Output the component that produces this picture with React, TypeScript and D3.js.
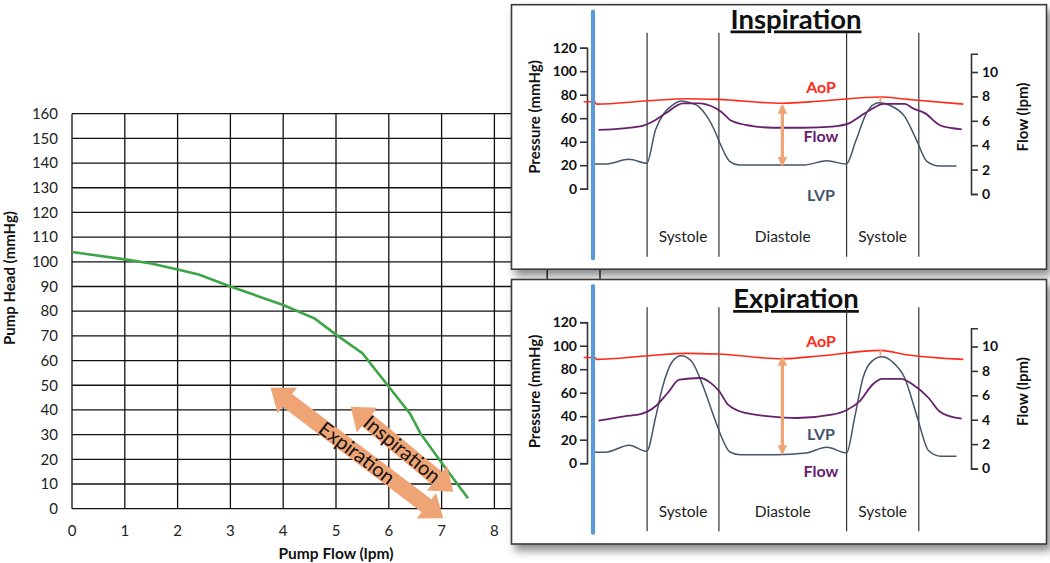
import React, { useEffect, useRef } from 'react';
import * as d3 from 'd3';

// ---- main chart: pump HQ curve ----
const pumpFlow = [0, 1, 1.5, 2, 2.4, 3, 4, 4.6, 5, 5.5, 6, 6.4, 6.6, 7, 7.5];
const pumpHead = [104, 101, 99.3, 96.9, 94.9, 90, 82.5, 77, 70.5, 63, 49.4, 38.6, 30.5, 18.6, 4.2];
const flowGrid = [0, 1, 2, 3, 4, 5, 6, 7, 8, 9, 10];
const flowTicks = [0, 1, 2, 3, 4, 5, 6, 7, 8];
const headTicks = [0, 10, 20, 30, 40, 50, 60, 70, 80, 90, 100, 110, 120, 130, 140, 150, 160];

// double arrows drawn on the HQ chart (flow, head)
const arrowNames = ['Expiration', 'Inspiration'];
const arrowFrom = [[3.76, 49], [5.28, 41.3]];
const arrowTo = [[7.03, -3.9], [7.22, 6.9]];

// ---- inset panels: waveforms over time (arbitrary units) ----
const phaseBounds = [14.5, 33.4, 67, 86];
const phaseNames = ['Systole', 'Diastole', 'Systole'];
const pressureTicks = [0, 20, 40, 60, 80, 100, 120];
const flowAxisTicks = [0, 2, 4, 6, 8, 10];

const inspAoPT = [-2.2, 0.7, 1.2, 14.9, 24.9, 33.1, 50.1, 60.4, 75.9, 83.2, 97.7];
const inspAoP = [74, 74, 72, 74.9, 76.6, 76, 72.7, 74.6, 78, 76, 72];
const inspLvpT = [0.7, 3.5, 9.8, 14.4, 16.7, 18.9, 21.2, 23.5, 25.8, 28.1, 30.3, 32.2, 33.5, 34.9, 36.3, 38.6, 49.5, 55.8, 61.8, 66.9, 69.5, 72.2, 75.4, 78.2, 82.3, 85.4, 88.2, 91.4, 95.9];
const inspLvp = [21, 21, 25, 21.6, 50, 64, 71.2, 74.6, 73.2, 69.8, 61.3, 50, 40, 30.1, 23, 20.2, 20.2, 20.2, 23.8, 21, 41.4, 64.2, 73.2, 71.2, 61.3, 41.4, 23, 19.3, 19.3];
const inspFlowT = [1.7, 13, 16.7, 19.4, 24, 28.5, 31.3, 34, 36.7, 42.2, 47.6, 55.8, 63.2, 67.2, 70.4, 73.2, 76.8, 82.3, 84.5, 87.7, 91.4, 95, 97.3];
const inspFlow = [5.25, 5.57, 6.07, 6.61, 7.43, 7.43, 7.21, 6.75, 6.0, 5.57, 5.43, 5.43, 5.52, 5.74, 6.34, 6.89, 7.38, 7.38, 7.02, 6.61, 5.66, 5.39, 5.3];

const expAoPT = [-2.2, 0.7, 1.2, 14.9, 24.9, 33.1, 50.1, 60.4, 75.9, 83.2, 97.7];
const expAoP = [90, 90, 88.4, 91.5, 93.5, 92.9, 88.9, 91.5, 96, 92.1, 88.4];
const expLvpT = [0.7, 3.5, 9.8, 14.4, 16.7, 18.5, 21.2, 23.5, 26.2, 29.4, 32.2, 34.2, 36.3, 39, 48.6, 56.3, 61.8, 67, 69.1, 71.3, 73.6, 76.3, 79.1, 82.3, 85.4, 88.6, 91.8, 95.9];
const expLvp = [9.3, 9.3, 15.2, 10.1, 38.5, 64, 86.7, 91.5, 86.7, 64, 38.5, 21.4, 9.5, 7.2, 7.2, 8.7, 13.5, 8.7, 38.5, 72.5, 86.7, 90.6, 86.1, 72.5, 41.3, 10.6, 5.9, 5.9];
const expFlowT = [1.7, 8.5, 13, 16.7, 19.9, 23, 28.5, 31.3, 33.5, 35.8, 40.4, 46.7, 54, 63.1, 67.2, 70.4, 74, 76.3, 81.3, 84.5, 88.6, 91.4, 95.9, 97.3];
const expFlow = [3.92, 4.28, 4.47, 5.1, 6.19, 7.28, 7.42, 7.0, 6.33, 5.23, 4.55, 4.28, 4.14, 4.41, 4.82, 5.51, 6.93, 7.34, 7.34, 6.87, 5.78, 4.69, 4.14, 4.08];

// pulse pressure marker (time, from, to) and small AoP-LVP gap marker
const inspGap = [50.1, 70.4, 20.4];
const inspTopGap = [75.9, 78, 74];
const expGap = [50.1, 89.5, 8.7];
const expTopGap = [75.9, 96.6, 91.8];

const FONT = 'Lato, "Open Sans", sans-serif';
const RED = '#FF2A1A';
const PURPLE = '#66206E';
const SLATE = '#44546A';
const ORANGE = '#EEA474';

export default function App() {
  const ref = useRef<SVGSVGElement>(null);

  useEffect(() => {
    const svg = d3.select(ref.current);
    svg.selectAll('*').remove();
    svg.attr('font-family', FONT);

    const defs = svg.append('defs');
    const f = defs.append('filter').attr('id', 'shadow')
      .attr('x', '-5%').attr('y', '-5%').attr('width', '115%').attr('height', '125%');
    f.append('feDropShadow').attr('dx', 4).attr('dy', 6).attr('stdDeviation', 4)
      .attr('flood-color', '#000').attr('flood-opacity', 0.45);
    defs.append('marker').attr('id', 'ohead').attr('viewBox', '0 0 10 10')
      .attr('refX', 8).attr('refY', 5).attr('markerWidth', 3).attr('markerHeight', 3)
      .attr('orient', 'auto-start-reverse')
      .append('path').attr('d', 'M0,0 L10,5 L0,10 z').attr('fill', ORANGE);

    // ---------- main HQ chart ----------
    const x = d3.scaleLinear().domain([0, 10]).range([72, 600]);
    const y = d3.scaleLinear().domain([0, 160]).range([508.7, 113.7]);
    const main = svg.append('g');

    main.append('g').selectAll('line').data(flowGrid).join('line')
      .attr('x1', d => x(d)).attr('x2', d => x(d))
      .attr('y1', y(160)).attr('y2', y(0))
      .attr('stroke', '#111').attr('stroke-width', 1.3);
    main.append('g').selectAll('line').data(headTicks).join('line')
      .attr('x1', x(0)).attr('x2', x(10))
      .attr('y1', d => y(d)).attr('y2', d => y(d))
      .attr('stroke', '#111').attr('stroke-width', 1.3);

    main.append('g').selectAll('text').data(flowTicks).join('text')
      .attr('x', d => x(d)).attr('y', 536)
      .attr('text-anchor', 'middle').attr('font-size', 15).attr('fill', '#222')
      .text(d => d);
    main.append('g').selectAll('text').data(headTicks).join('text')
      .attr('x', 58).attr('y', d => y(d)).attr('dy', '0.35em')
      .attr('text-anchor', 'end').attr('font-size', 15).attr('fill', '#222')
      .text(d => d);

    main.append('text').attr('x', 336).attr('y', 559)
      .attr('text-anchor', 'middle').attr('font-size', 15.5).attr('font-weight', 'bold')
      .attr('fill', '#111').text('Pump Flow (lpm)');
    main.append('text').attr('transform', `translate(15,278) rotate(-90)`)
      .attr('text-anchor', 'middle').attr('font-size', 15).attr('font-weight', 'bold')
      .attr('fill', '#111').text('Pump Head (mmHg)');

    const pumpLine = d3.line<number>().x((d, i) => x(pumpFlow[i])).y(d => y(d));
    main.append('path').attr('d', pumpLine(pumpHead))
      .attr('fill', 'none').attr('stroke', '#3DA548').attr('stroke-width', 2.6);

    // respiratory double arrows
    arrowNames.forEach((name, i) => {
      const x1 = x(arrowFrom[i][0]), y1 = y(arrowFrom[i][1]);
      const x2 = x(arrowTo[i][0]), y2 = y(arrowTo[i][1]);
      const L = Math.hypot(x2 - x1, y2 - y1);
      const ang = (Math.atan2(y2 - y1, x2 - x1) * 180) / Math.PI;
      const hl = 21, hw = 16, sw = 8, h = L / 2;
      const pts: [number, number][] = [
        [-h, 0], [-h + hl, -hw], [-h + hl, -sw], [h - hl, -sw], [h - hl, -hw],
        [h, 0], [h - hl, hw], [h - hl, sw], [-h + hl, sw], [-h + hl, hw],
      ];
      const g = main.append('g')
        .attr('transform', `translate(${(x1 + x2) / 2},${(y1 + y2) / 2}) rotate(${ang})`);
      g.append('path').attr('d', 'M' + pts.map(p => p.join(',')).join('L') + 'Z')
        .attr('fill', ORANGE);
      g.append('text').attr('text-anchor', 'middle').attr('dy', '0.35em')
        .attr('font-size', 20).attr('fill', '#111').text(name);
    });

    // ---------- inset panels ----------
    const t = d3.scaleLinear().domain([0, 100]).range([592, 972]);
    const pY = d3.scaleLinear().domain([0, 120]).range([188.7, 47.7]);
    const fY = d3.scaleLinear().domain([0, 11.5]).range([194, 53.7]);

    const panels = [
      {
        title: 'Inspiration', dy: 0, boxTop: 4.7, titleY: 28.5,
        aopT: inspAoPT, aop: inspAoP, lvpT: inspLvpT, lvp: inspLvp, flowT: inspFlowT, flow: inspFlow,
        gap: inspGap, topGap: inspTopGap, aopLab: 87.3, flowLab: 136, lvpLab: 195.7,
      },
      {
        title: 'Expiration', dy: 274.5, boxTop: 279.5, titleY: 308,
        aopT: expAoPT, aop: expAoP, lvpT: expLvpT, lvp: expLvp, flowT: expFlowT, flow: expFlow,
        gap: expGap, topGap: expTopGap, aopLab: 66.8, flowLab: 196.8, lvpLab: 160.2,
      },
    ];

    panels.forEach(p => {
      svg.append('rect').attr('x', 511.5).attr('y', p.boxTop).attr('width', 535).attr('height', 264.5)
        .attr('fill', '#fff').attr('stroke', '#3a3a3a').attr('stroke-width', 1.6)
        .attr('filter', 'url(#shadow)');

      svg.append('text').attr('x', 796).attr('y', p.titleY)
        .attr('text-anchor', 'middle').attr('font-size', 27.5).attr('font-weight', 'bold')
        .attr('fill', '#111').style('text-decoration', 'underline').text(p.title);

      const g = svg.append('g').attr('transform', `translate(0,${p.dy})`);

      // phase dividers and labels
      g.append('g').selectAll('line').data(phaseBounds).join('line')
        .attr('x1', d => t(d)).attr('x2', d => t(d)).attr('y1', 32.7).attr('y2', 256.7)
        .attr('stroke', '#333').attr('stroke-width', 1.2);
      g.append('g').selectAll('text').data(phaseNames).join('text')
        .attr('x', (d, i) => t((phaseBounds[i] + phaseBounds[i + 1]) / 2)).attr('y', 242)
        .attr('text-anchor', 'middle').attr('font-size', 15.5).attr('fill', '#222')
        .text(d => d);

      // axes
      const la = g.append('g').attr('transform', 'translate(587,0)')
        .call(d3.axisLeft(pY).tickValues(pressureTicks).tickSize(7).tickPadding(3));
      const ra = g.append('g').attr('transform', 'translate(971,0)')
        .call(d3.axisRight(fY).tickValues(flowAxisTicks).tickSize(7).tickPadding(4));
      [la, ra].forEach(a => {
        a.selectAll('path, line').attr('stroke', '#333').attr('stroke-width', 1.6);
        a.selectAll('text').attr('font-size', 14).attr('font-weight', 'bold')
          .attr('fill', '#111').attr('font-family', FONT);
      });
      g.append('text').attr('transform', 'translate(540,117) rotate(-90)')
        .attr('text-anchor', 'middle').attr('font-size', 15).attr('font-weight', 'bold')
        .attr('fill', '#111').text('Pressure (mmHg)');
      g.append('text').attr('transform', 'translate(1028,117) rotate(-90)')
        .attr('text-anchor', 'middle').attr('font-size', 15).attr('font-weight', 'bold')
        .attr('fill', '#111').text('Flow (lpm)');

      // waveforms
      const curve = d3.curveMonotoneX;
      const aopLine = d3.line<number>().x((d, i) => t(p.aopT[i])).y(d => pY(d)).curve(curve);
      const lvpLine = d3.line<number>().x((d, i) => t(p.lvpT[i])).y(d => pY(d)).curve(curve);
      const flowLine = d3.line<number>().x((d, i) => t(p.flowT[i])).y(d => fY(d)).curve(curve);
      g.append('path').attr('d', lvpLine(p.lvp)).attr('fill', 'none')
        .attr('stroke', SLATE).attr('stroke-width', 1.5);
      g.append('path').attr('d', flowLine(p.flow)).attr('fill', 'none')
        .attr('stroke', PURPLE).attr('stroke-width', 1.8);
      g.append('path').attr('d', aopLine(p.aop)).attr('fill', 'none')
        .attr('stroke', RED).attr('stroke-width', 1.6);

      // pulse gap markers
      g.append('line').attr('x1', t(p.gap[0])).attr('x2', t(p.gap[0]))
        .attr('y1', pY(p.gap[1])).attr('y2', pY(p.gap[2]))
        .attr('stroke', ORANGE).attr('stroke-width', 3.2)
        .attr('marker-start', 'url(#ohead)').attr('marker-end', 'url(#ohead)');
      g.append('line').attr('x1', t(p.topGap[0])).attr('x2', t(p.topGap[0]))
        .attr('y1', pY(p.topGap[1])).attr('y2', pY(p.topGap[2]))
        .attr('stroke', ORANGE).attr('stroke-width', 2);

      // blue marker line
      g.append('line').attr('x1', 593).attr('x2', 593).attr('y1', 11.7).attr('y2', 258.3)
        .attr('stroke', '#5B9BD5').attr('stroke-width', 4.2).attr('stroke-linecap', 'round');

      // series labels
      const lab = (txt: string, yy: number, col: string) =>
        g.append('text').attr('x', 821).attr('y', yy).attr('dy', '0.35em')
          .attr('text-anchor', 'middle').attr('font-size', 16).attr('font-weight', 'bold')
          .attr('fill', col).text(txt);
      lab('AoP', p.aopLab, RED);
      lab('Flow', p.flowLab, PURPLE);
      lab('LVP', p.lvpLab, SLATE);
    });
  }, []);

  return (
    <svg ref={ref} width={1050} height={563}
      style={{ position: 'absolute', left: 0, top: 0, background: '#fff' }} />
  );
}
